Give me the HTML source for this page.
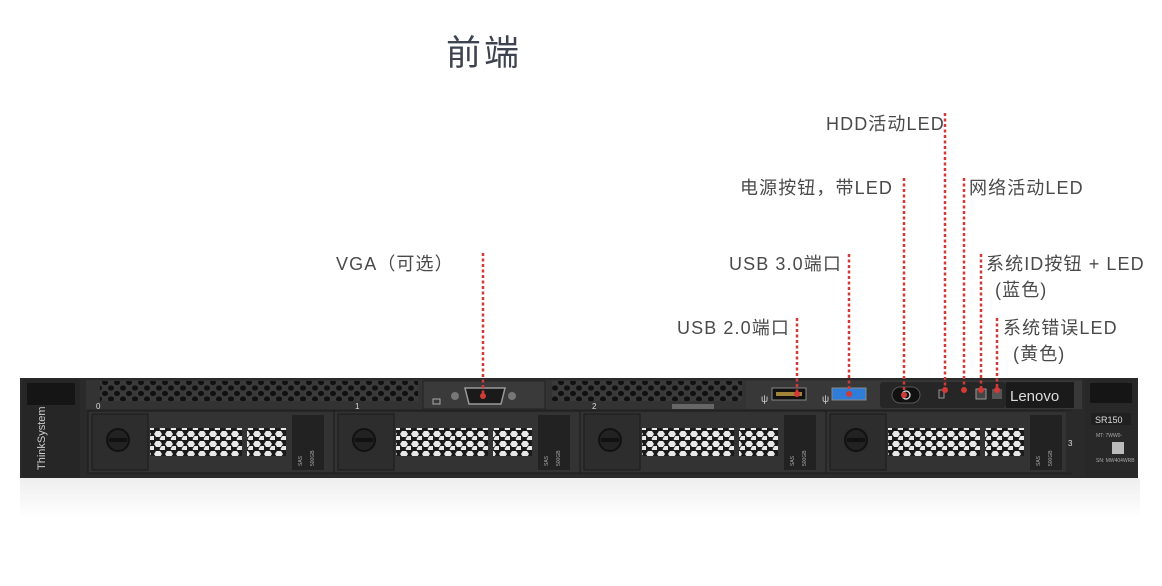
<!DOCTYPE html>
<html><head><meta charset="utf-8"><style>
html,body{margin:0;padding:0;background:#fff;}
body{width:1162px;height:586px;overflow:hidden;position:relative;font-family:"Liberation Sans","Noto Sans CJK SC",sans-serif;}
.t{position:absolute;color:#4a4a4a;font-size:18px;letter-spacing:1.1px;white-space:nowrap;line-height:20px;}
</style></head><body>
<div class="t" style="left:446px;top:34px;font-size:35px;letter-spacing:3px;line-height:40px;color:#3d4450;">前端</div>
<div class="t" style="left:826px;top:114px;">HDD活动LED</div>
<div class="t" style="left:740px;top:178px;">电源按钮，带LED</div>
<div class="t" style="left:969px;top:178px;">网络活动LED</div>
<div class="t" style="left:336px;top:254px;">VGA（可选）</div>
<div class="t" style="left:729px;top:254px;">USB 3.0端口</div>
<div class="t" style="left:986px;top:254px;">系统ID按钮 + LED</div>
<div class="t" style="left:995px;top:280px;">(蓝色)</div>
<div class="t" style="left:677px;top:318px;">USB 2.0端口</div>
<div class="t" style="left:1003px;top:318px;">系统错误LED</div>
<div class="t" style="left:1013px;top:344px;">(黄色)</div>
<svg width="1162" height="586" style="position:absolute;left:0;top:0" xmlns="http://www.w3.org/2000/svg">
<defs>
<pattern id="hex" width="11" height="10" patternUnits="userSpaceOnUse">
<rect width="11" height="10" fill="#1b1b1b"/>
<polygon points="2,1 6,1 8,4 6,7 2,7 0,4" fill="#e8e8e8"/>
<polygon points="7.5,6 11.5,6 13.5,9 11.5,12 7.5,12 5.5,9" fill="#e8e8e8"/>
</pattern>
<pattern id="hex2" width="12" height="11" patternUnits="userSpaceOnUse">
<rect width="12" height="11" fill="#3a3a3a"/>
<ellipse cx="3" cy="3" rx="3" ry="2.6" fill="#101010"/>
<ellipse cx="9" cy="8.5" rx="3" ry="2.6" fill="#101010"/>
</pattern>
<linearGradient id="refl" x1="0" y1="0" x2="0" y2="1"><stop offset="0" stop-color="#eee"/><stop offset="1" stop-color="#fff"/></linearGradient>
</defs>
<rect x="20" y="478" width="1120" height="40" fill="url(#refl)"/>
<rect x="20" y="378" width="1118" height="100" fill="#2a2a2a"/>
<rect x="86" y="380" width="996" height="29" fill="#333"/>
<rect x="22" y="379" width="58" height="99" rx="3" fill="#262626"/>
<rect x="27" y="383" width="48" height="22" fill="#151515"/>
<text x="45" y="470" transform="rotate(-90 45 470)" fill="#ccc" font-size="11" font-family="Liberation Sans Narrow, Liberation Sans, sans-serif">ThinkSystem</text>
<rect x="100" y="381" width="318" height="20" fill="url(#hex2)"/>
<rect x="552" y="381" width="190" height="20" fill="url(#hex2)"/>
<text x="96" y="409" fill="#ddd" font-size="8">0</text>
<text x="355" y="409" fill="#ddd" font-size="8">1</text>
<text x="592" y="409" fill="#ddd" font-size="8">2</text>
<rect x="423" y="381" width="122" height="28" fill="#3a3a3a" stroke="#222"/>
<rect x="433" y="399" width="7" height="5" fill="none" stroke="#aaa"/>
<circle cx="455" cy="396" r="4" fill="#777"/><circle cx="512" cy="396" r="4" fill="#777"/>
<path d="M465 388 h40 l-4 16 h-32 z" fill="#1a1a1a" stroke="#999" stroke-width="1.5"/>
<rect x="672" y="404" width="42" height="5" fill="#666"/>
<rect x="746" y="381" width="336" height="28" fill="#383838"/>
<text x="761" y="402" fill="#ccc" font-size="10">ψ</text>
<rect x="772" y="388" width="34" height="12" fill="#111" stroke="#888"/>
<rect x="776" y="392" width="26" height="4" fill="#a0843a"/>
<text x="822" y="402" fill="#ccc" font-size="10">ψ</text>
<rect x="832" y="388" width="34" height="12" fill="#2f7dd8" stroke="#888"/>
<rect x="880" y="382" width="126" height="26" rx="3" fill="#262626"/>
<rect x="892" y="387" width="28" height="16" rx="8" fill="#111" stroke="#555"/>
<circle cx="906" cy="395" r="4" fill="none" stroke="#ddd" stroke-width="1.3"/>
<rect x="939" y="390" width="5" height="8" fill="none" stroke="#999"/>
<rect x="976" y="389" width="10" height="10" fill="#444" stroke="#999"/>
<rect x="992" y="389" width="10" height="10" fill="#555"/>
<rect x="1006" y="382" width="68" height="26" fill="#1a1a1a"/>
<text x="1010" y="401" fill="#ddd" font-size="15">Lenovo</text>
<g id="bay">
<rect x="88" y="411" width="246" height="62" fill="#333" stroke="#1a1a1a"/>
<rect x="92" y="414" width="56" height="56" fill="#2d2d2d" stroke="#1a1a1a"/>
<circle cx="118" cy="440" r="11" fill="#222" stroke="#111" stroke-width="2"/>
<rect x="109" y="438" width="18" height="4" fill="#111"/>
<rect x="150" y="428" width="136" height="28" fill="url(#hex)"/>
<rect x="242" y="428" width="5" height="28" fill="#333"/>
<rect x="292" y="415" width="32" height="55" fill="#222"/>
<text x="302" y="466" transform="rotate(-90 302 466)" fill="#aaa" font-size="5">SAS</text>
<text x="314" y="466" transform="rotate(-90 314 466)" fill="#aaa" font-size="5">500GB</text>
</g>
<use href="#bay" x="246"/>
<use href="#bay" x="492"/>
<use href="#bay" x="738"/>
<rect x="1066" y="411" width="18" height="62" fill="#2a2a2a"/>
<text x="1068" y="446" fill="#ddd" font-size="8">3</text>
<rect x="1085" y="379" width="52" height="99" rx="3" fill="#282828"/>
<rect x="1090" y="383" width="42" height="20" fill="#151515"/>
<rect x="1091" y="413" width="40" height="12" fill="#202020"/>
<text x="1095" y="423" fill="#ddd" font-size="9">SR150</text>
<text x="1096" y="437" fill="#aaa" font-size="5">MT: 7WW0-</text>
<rect x="1112" y="442" width="12" height="12" fill="#bbb"/>
<text x="1096" y="462" fill="#aaa" font-size="5">SN: MW404WRB</text>
<g stroke="#d33a35" stroke-width="2.5" stroke-dasharray="3,2.5" fill="none">
<line x1="483" y1="253" x2="483" y2="396"/>
<line x1="797" y1="318" x2="797" y2="394"/>
<line x1="849" y1="254" x2="849" y2="394"/>
<line x1="904" y1="178" x2="904" y2="395"/>
<line x1="945" y1="113" x2="945" y2="390"/>
<line x1="964" y1="178" x2="964" y2="390"/>
<line x1="981" y1="254" x2="981" y2="390"/>
<line x1="997" y1="318" x2="997" y2="390"/>
</g>
<g fill="#d33a35">
<circle cx="483" cy="396" r="3"/><circle cx="797" cy="394" r="3"/><circle cx="849" cy="394" r="3"/>
<circle cx="904" cy="395" r="3"/><circle cx="945" cy="390" r="3"/><circle cx="964" cy="390" r="3"/>
<circle cx="981" cy="390" r="3"/><circle cx="997" cy="390" r="3"/>
</g>
</svg>
</body></html>
